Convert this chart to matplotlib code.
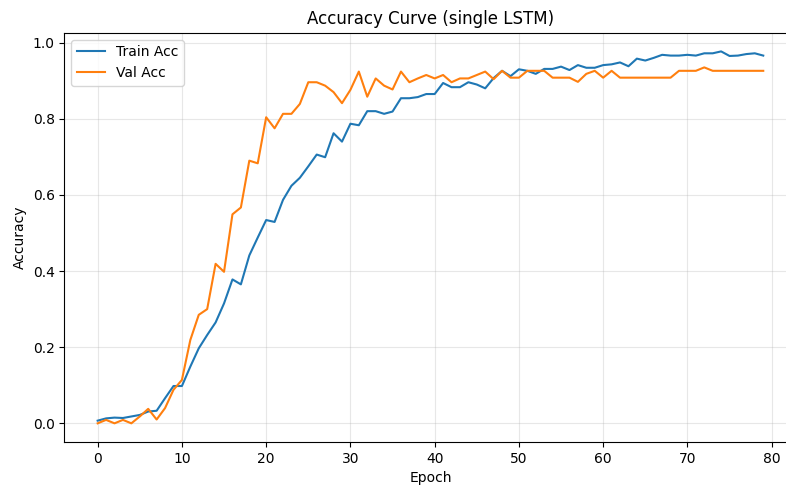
import matplotlib
matplotlib.use('Agg')
import matplotlib.pyplot as plt

train_acc = [0.007, 0.013, 0.015, 0.014, 0.018, 0.022, 0.031, 0.033, 0.066, 0.098,
             0.098, 0.149, 0.197, 0.232, 0.265, 0.315, 0.378, 0.365, 0.441, 0.488,
             0.534, 0.529, 0.587, 0.624, 0.645, 0.675, 0.706, 0.699, 0.762, 0.74,
             0.787, 0.783, 0.82, 0.82, 0.813, 0.819, 0.854, 0.854, 0.857, 0.865,
             0.865, 0.894, 0.883, 0.883, 0.896, 0.89, 0.88, 0.907, 0.926, 0.912,
             0.93, 0.926, 0.918, 0.931, 0.931, 0.937, 0.928, 0.941, 0.934, 0.934,
             0.941, 0.943, 0.948, 0.938, 0.958, 0.953, 0.96, 0.968, 0.966, 0.966,
             0.968, 0.966, 0.972, 0.972, 0.977, 0.965, 0.966, 0.97, 0.972, 0.966]
val_acc = [0.0, 0.009, 0.0, 0.009, 0.0, 0.018, 0.038, 0.01, 0.04, 0.088,
           0.114, 0.219, 0.285, 0.30, 0.419, 0.398, 0.549, 0.567, 0.69, 0.683,
           0.804, 0.775, 0.813, 0.813, 0.839, 0.896, 0.896, 0.887, 0.87, 0.841,
           0.876, 0.924, 0.858, 0.906, 0.887, 0.877, 0.924, 0.896, 0.906, 0.915,
           0.906, 0.915, 0.896, 0.906, 0.906, 0.915, 0.924, 0.904, 0.926, 0.908,
           0.908, 0.926, 0.926, 0.926, 0.908, 0.908, 0.908, 0.897, 0.918, 0.926,
           0.908, 0.926, 0.908, 0.908, 0.908, 0.908, 0.908, 0.908, 0.908, 0.926,
           0.926, 0.926, 0.935, 0.926, 0.926, 0.926, 0.926, 0.926, 0.926, 0.926]
epochs = list(range(len(train_acc)))

fig = plt.figure(figsize=(7.86, 4.86), dpi=100)
ax = fig.add_axes([0.0819, 0.0907, 0.9315, 0.8418])
ax.plot(epochs, train_acc, label='Train Acc')
ax.plot(epochs, val_acc, label='Val Acc')
ax.set_xlabel('Epoch')
ax.set_ylabel('Accuracy')
ax.set_title('Accuracy Curve (single LSTM)')
ax.legend(loc='upper left')
ax.grid(True, alpha=0.3)
fig.savefig('out.png', dpi=100)
